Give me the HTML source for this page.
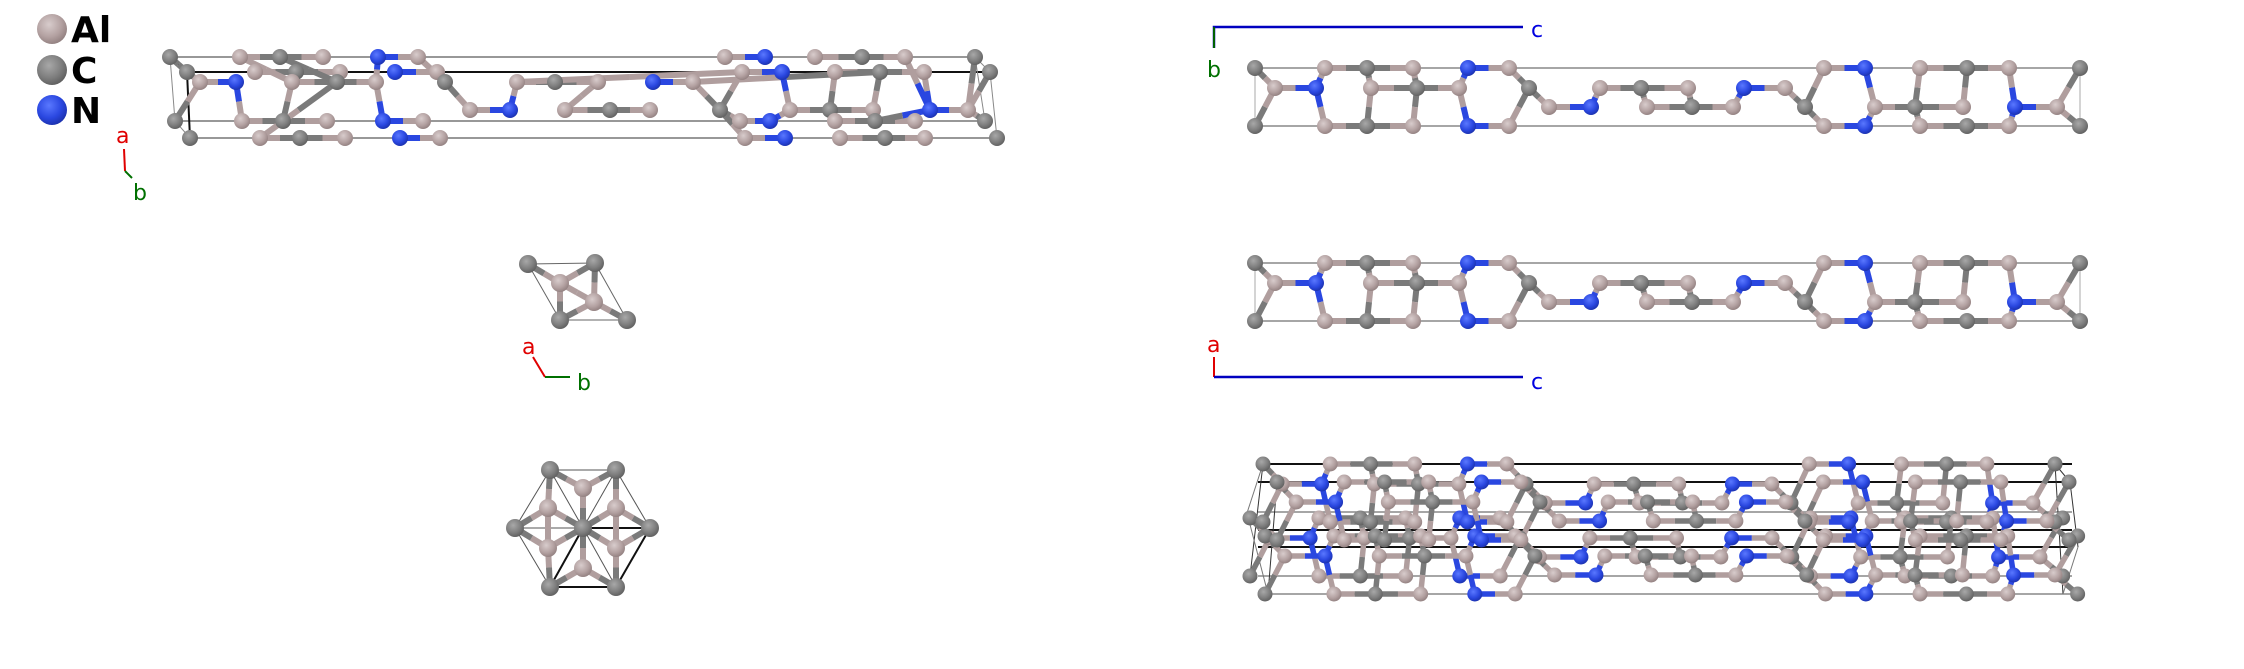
<!DOCTYPE html>
<html><head><meta charset="utf-8"><style>
html,body{margin:0;padding:0;background:#fff;width:2244px;height:669px;overflow:hidden}
svg{display:block}
text{font-family:"DejaVu Sans","Liberation Sans",sans-serif}
</style></head><body>
<svg id="s" width="2244" height="669" viewBox="0 0 2244 669" xmlns="http://www.w3.org/2000/svg">
<defs>
<radialGradient id="gAl" cx="0.4" cy="0.35" r="0.7"><stop offset="0" stop-color="#d8cccc"/><stop offset="0.6" stop-color="#b3a1a1"/><stop offset="1" stop-color="#8f7d7d"/></radialGradient>
<radialGradient id="gC" cx="0.4" cy="0.35" r="0.7"><stop offset="0" stop-color="#a8a8a8"/><stop offset="0.6" stop-color="#7e7e7e"/><stop offset="1" stop-color="#5c5c5c"/></radialGradient>
<radialGradient id="gN" cx="0.4" cy="0.35" r="0.7"><stop offset="0" stop-color="#5a78ff"/><stop offset="0.6" stop-color="#2a47e0"/><stop offset="1" stop-color="#1a2fa8"/></radialGradient>
</defs>
<g id="lines"></g><g id="bonds"></g><g id="atoms"></g>
<circle cx="52" cy="29" r="15" fill="url(#gAl)"/>
<circle cx="52" cy="70" r="15" fill="url(#gC)"/>
<circle cx="52" cy="110" r="15" fill="url(#gN)"/>
<text x="71" y="42" font-size="36" font-weight="bold" fill="#000">Al</text>
<text x="71" y="83" font-size="36" font-weight="bold" fill="#000">C</text>
<text x="71" y="123" font-size="36" font-weight="bold" fill="#000">N</text>
<text x="116" y="143" font-size="22" fill="#e00000">a</text>
<polyline points="124,149 125,171" stroke="#e00000" stroke-width="2" fill="none"/>
<polyline points="125,171 132,178" stroke="#007000" stroke-width="2" fill="none"/>
<text x="133" y="200" font-size="22" fill="#007000">b</text>
<text x="522" y="354" font-size="22" fill="#e00000">a</text>
<polyline points="533,357 545,377" stroke="#e00000" stroke-width="2" fill="none"/>
<polyline points="545,377 570,377" stroke="#007000" stroke-width="2" fill="none"/>
<text x="577" y="390" font-size="22" fill="#007000">b</text>
<polyline points="1214,48 1214,27 1523,27" stroke="#0000c0" stroke-width="2.5" fill="none"/>
<polyline points="1214,48 1214,27" stroke="#006000" stroke-width="2" fill="none"/>
<text x="1531" y="37" font-size="22" fill="#0000e0">c</text>
<text x="1207" y="77" font-size="22" fill="#007000">b</text>
<text x="1207" y="352" font-size="22" fill="#e00000">a</text>
<polyline points="1214,357 1214,377" stroke="#e00000" stroke-width="2" fill="none"/>
<polyline points="1214,377 1523,377" stroke="#0000c0" stroke-width="2.5" fill="none"/>
<text x="1531" y="389" font-size="22" fill="#0000e0">c</text>
</svg>
<script>
var NS="http://www.w3.org/2000/svg";
var L=document.getElementById('lines'),B=document.getElementById('bonds'),A=document.getElementById('atoms');
var col={Al:'#b09e9e',C:'#7a7a7a',N:'#2a47e0'};
function el(p,t,at){var e=document.createElementNS(NS,t);for(var k in at)e.setAttribute(k,at[k]);p.appendChild(e);return e;}
function line(x1,y1,x2,y2,w,c){el(L,'line',{x1:x1,y1:y1,x2:x2,y2:y2,stroke:c||'#777','stroke-width':w||1.5});}
function bond(a,b,w){var mx=(a[0]+b[0])/2,my=(a[1]+b[1])/2;
 el(B,'line',{x1:a[0],y1:a[1],x2:mx,y2:my,stroke:col[a[2]],'stroke-width':w||6});
 el(B,'line',{x1:mx,y1:my,x2:b[0],y2:b[1],stroke:col[b[2]],'stroke-width':w||6});}
function atom(a,r){el(A,'circle',{cx:a[0],cy:a[1],r:r||8,fill:'url(#g'+a[2]+')'});}
function draw(at,bd,r,w){bd.forEach(function(p){bond(at[p[0]],at[p[1]],w)});at.forEach(function(a){atom(a,r)});}

var rowA=[['C',1255],['Al',1325],['C',1367],['Al',1413],['N',1468],['Al',1509],['Al',1824],['N',1865],['Al',1920],['C',1967],['Al',2009],['C',2080]];
var row1=[['Al',1275],['N',1316],['Al',1371],['C',1417],['Al',1459],['C',1529],['Al',1600],['C',1641],['Al',1688],['N',1744],['Al',1785]];
var row2=[['Al',1549],['N',1591],['Al',1647],['C',1692],['Al',1733],['C',1805],['Al',1875],['C',1915],['Al',1963],['N',2015],['Al',2057]];
var PB=[[1,2],[2,3],[4,5],[6,7],[8,9],[9,10],[35,36],[36,37],[38,39],[40,41],[42,43],[43,44],
[12,13],[14,15],[15,16],[18,19],[19,20],[21,22],[23,24],[25,26],[26,27],[29,30],[30,31],[32,33],
[0,12],[12,34],[13,35],[1,13],[2,14],[14,36],[3,15],[15,37],[16,4],[16,38],[5,17],[17,39],[17,23],[24,18],[20,26],[19,25],[27,21],[22,28],[28,6],[28,40],[29,7],[29,41],[30,8],[30,42],[31,9],[32,10],[32,44],[33,11],[33,45]];
function pattern(x0,y0,sx,sy){var at=[];function X(x){return x0+(x-1255)*sx;}
 rowA.forEach(function(a){at.push([X(a[1]),y0,a[0]])});
 row1.forEach(function(a){at.push([X(a[1]),y0+20*sy,a[0]])});
 row2.forEach(function(a){at.push([X(a[1]),y0+39*sy,a[0]])});
 rowA.forEach(function(a){at.push([X(a[1]),y0+58*sy,a[0]])});
 return at;}
function rightPanel(y0){
 line(1255,y0,2080,y0,1.5,'#888');line(1255,y0+58,2080,y0+58,1.5,'#888');
 line(1255,y0,1255,y0+58,1,'#aaa');line(2080,y0,2080,y0+58,1,'#aaa');
 draw(pattern(1255,y0,1,1),PB,8,6);}
rightPanel(68);rightPanel(263);

[[464,'#111',2],[482,'#111',2],[512,'#888',1.5],[530,'#111',2],[547,'#111',2],[576,'#888',1.5],[594,'#888',1.5]].forEach(function(l){line(1258,l[0],2072,l[0],l[2],l[1]);});
[[1263,464,1250,576],[1277,482,1268,594],[2055,464,2063,594],[2070,482,2078,547],[1263,464,1277,482],[2055,464,2070,482]].forEach(function(l){line(l[0],l[1],l[2],l[3],1,'#333');});
line(1247,513,1263,464,1,'#777');line(1247,513,1268,594,1,'#777');line(2078,547,2063,594,1,'#777');
var copies=[[1250,518,0.985],[1265,536,0.985],[1263,464,0.96],[1277,482,0.96]];
copies.forEach(function(c){draw(pattern(c[0],c[1],c[2],1),PB,7.5,5.5);});

var tl=[];
function R(y,arr){arr.forEach(function(a){tl.push([a[1],y,a[0]])});}
R(57,[['C',170],['Al',240],['C',280],['Al',323],['N',378],['Al',418],['Al',725],['N',765],['Al',815],['C',862],['Al',905],['C',975]]);
R(72,[['C',187],['Al',255],['C',296],['Al',340],['N',395],['Al',437],['Al',742],['N',782],['Al',835],['C',880],['Al',924],['C',990]]);
R(82,[['Al',200],['N',236],['Al',292],['C',337],['Al',376],['C',445],['Al',517],['C',555],['Al',598],['N',653],['Al',693]]);
R(110,[['Al',470],['N',510],['Al',565],['C',610],['Al',650],['C',720],['Al',790],['C',830],['Al',873],['N',930],['Al',968]]);
R(121,[['C',175],['Al',242],['C',283],['Al',327],['N',383],['Al',423],['Al',740],['N',770],['Al',835],['C',875],['Al',915],['C',985]]);
R(138,[['C',190],['Al',260],['C',300],['Al',345],['N',400],['Al',440],['Al',745],['N',785],['Al',840],['C',885],['Al',925],['C',997]]);
var tb=[];
[0,12,46,58].forEach(function(o){[[1,2],[2,3],[4,5],[6,7],[8,9],[9,10]].forEach(function(p){tb.push([p[0]+o,p[1]+o])});});
tb=tb.concat([[24,25],[26,27],[27,28],[30,31],[31,32],[33,34],[35,36],[37,38],[38,39],[41,42],[42,43],[44,45],
[0,12],[12,24],[24,46],[25,47],[1,26],[26,48],[2,27],[27,59],[28,4],[28,50],[29,17],[29,35],[5,29],[36,30],[32,37],[30,18],[40,34],[40,18],[40,52],[40,64],[34,21],[41,19],[41,53],[42,20],[43,21],[44,22],[44,55],[45,23],[45,57],[10,44],[11,45]]);
line(170,57,975,57,1.5,'#777');line(187,72,990,72,2,'#111');line(175,121,985,121,1.5,'#777');line(190,138,997,138,1.5,'#777');
line(170,57,175,121,1,'#888');line(975,57,985,121,1,'#888');line(990,72,997,138,1,'#888');
line(170,57,187,72,2,'#111');line(187,72,190,138,2,'#111');line(175,121,190,138,1,'#888');line(975,57,990,72,1,'#888');
draw(tl,tb,8,6);

var m=[[528,264,'C'],[595,263,'C'],[560,283,'Al'],[594,302,'Al'],[560,320,'C'],[627,320,'C']];
line(528,264,595,263,1,'#666');line(560,320,627,320,1,'#666');line(528,264,560,320,1,'#666');line(595,263,627,320,1,'#666');
draw(m,[[0,2],[1,2],[2,4],[2,3],[1,3],[3,5],[3,4]],9,6);

var h=[[583,528,'C'],[550,470,'C'],[616,470,'C'],[515,528,'C'],[650,528,'C'],[550,587,'C'],[616,587,'C'],
[583,488,'Al'],[548,508,'Al'],[616,508,'Al'],[548,548,'Al'],[616,548,'Al'],[583,568,'Al']];
[[1,2],[1,3],[3,5],[2,4],[4,6],[5,6],[1,0],[2,0],[3,0],[4,0],[5,0],[6,0],[0,7],[0,12],[3,4]].forEach(function(p){line(h[p[0]][0],h[p[0]][1],h[p[1]][0],h[p[1]][1],1,'#555');});
line(583,528,550,587,2,'#111');line(650,528,616,587,2,'#111');line(583,528,650,528,2,'#111');line(550,587,616,587,2,'#111');
draw(h,[[1,8],[8,10],[10,5],[2,9],[9,11],[11,6],[0,7],[0,12],[7,1],[7,2],[8,3],[9,4],[10,3],[11,4],[12,5],[12,6],[0,8],[0,9],[0,10],[0,11]],9,6);
</script>
</body></html>
